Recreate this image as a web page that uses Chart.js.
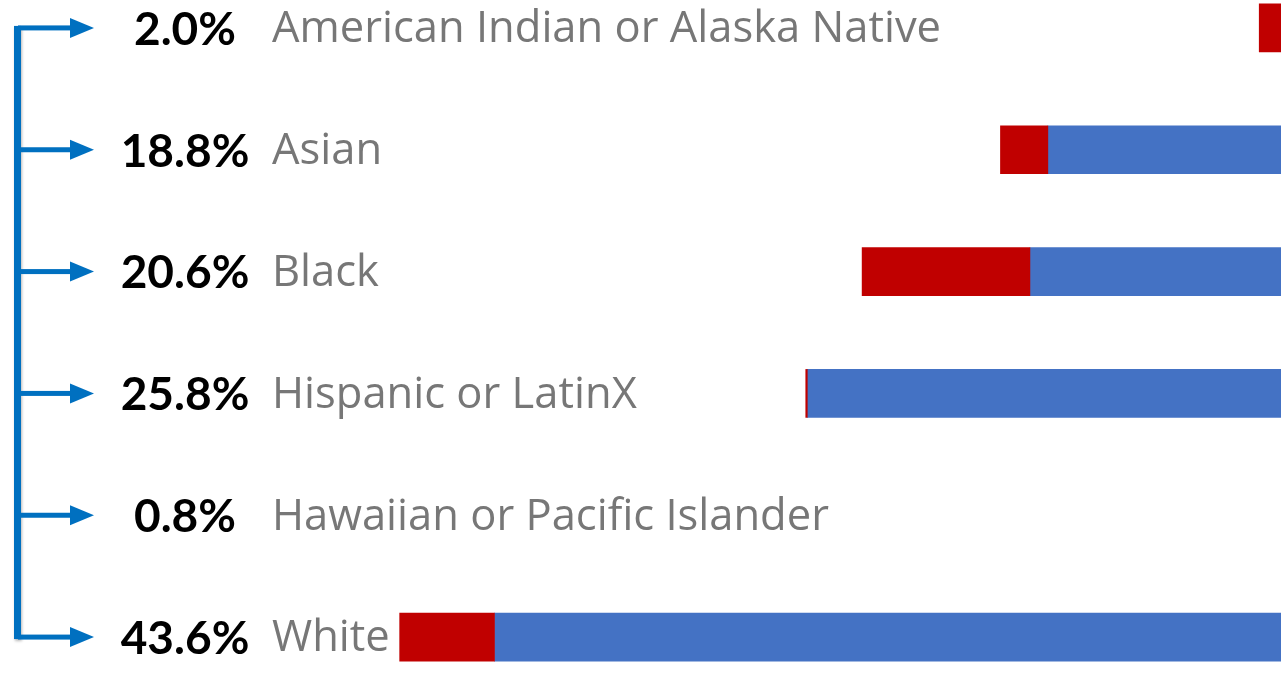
<!DOCTYPE html>
<html>
<head>
<meta charset="utf-8">
<script src="https://cdn.jsdelivr.net/npm/chart.js@4.4.1/dist/chart.umd.min.js"></script>
<style>
  html, body { margin: 0; padding: 0; background: #ffffff; overflow: hidden; width: 1281px; height: 686px; }
  #wrap { position: absolute; left: 0; top: -33px; width: 1281px; height: 731px; }
</style>
</head>
<body>
<div id="wrap"><canvas id="c"></canvas></div>
<script>
// Categories (top to bottom)
const categories = [
  "American Indian or Alaska Native",
  "Asian",
  "Black",
  "Hispanic or LatinX",
  "Hawaiian or Pacific Islander",
  "White"
];
// Share labels shown at left
const shares = ["2.0%", "18.8%", "20.6%", "25.8%", "0.8%", "43.6%"];
// Invisible lead-in segment (x units, visible window is 0..100)
const leadIn   = [98.3, 78.1, 67.3, 62.9, 101.0, 31.2];
// Red segment
const redVals  = [4.0, 3.7, 13.1, 0.12, 1.0, 7.4];
// Blue segment (continues past the visible window)
const blueVals = [20, 30, 40, 45, 10, 70];

const RED = "#C00000";
const BLUE = "#4472C4";
const ARROW = "#0070C0";

const overlay = {
  id: "overlay",
  afterDraw(chart) {
    const ctx = chart.ctx;
    const y = chart.scales.y;
    const ys = categories.map((_, i) => y.getPixelForValue(i));
    ctx.save();
    // bracket with arrows
    ctx.shadowColor = "rgba(0,0,0,0.28)";
    ctx.shadowBlur = 3;
    ctx.shadowOffsetX = 1;
    ctx.shadowOffsetY = 2;
    ctx.fillStyle = ARROW;
    ctx.fillRect(14, ys[0] - 2, 7, ys[ys.length - 1] - ys[0] + 4);
    ctx.shadowColor = "rgba(0,0,0,0)";
    ys.forEach(py => {
      ctx.fillRect(18, py - 2.5, 54, 5);
      ctx.beginPath();
      ctx.moveTo(70, py - 10);
      ctx.lineTo(94, py);
      ctx.lineTo(70, py + 10);
      ctx.closePath();
      ctx.fill();
    });
    // share labels
    ctx.fillStyle = "#000000";
    ctx.font = "bold 46px Lato";
    ctx.textAlign = "center";
    ctx.textBaseline = "middle";
    shares.forEach((s, i) => ctx.fillText(s, 185, ys[i] + 2));
    // category labels
    ctx.fillStyle = "#777777";
    ctx.font = "43.5px 'Open Sans'";
    ctx.textAlign = "left";
    categories.forEach((c, i) => ctx.fillText(c, 272, ys[i] + 2));
    ctx.restore();
  }
};

new Chart(document.getElementById("c"), {
  type: "bar",
  data: {
    labels: categories,
    datasets: [
      { label: "lead", data: leadIn, backgroundColor: "rgba(0,0,0,0)", borderWidth: 0 },
      { label: "red", data: redVals, backgroundColor: RED, borderWidth: 0 },
      { label: "blue", data: blueVals, backgroundColor: BLUE, borderWidth: 0 }
    ]
  },
  options: {
    indexAxis: "y",
    responsive: true,
    maintainAspectRatio: false,
    animation: false,
    layout: { padding: 0 },
    datasets: { bar: { barThickness: 48 } },
    plugins: { legend: { display: false }, tooltip: { enabled: false } },
    scales: {
      x: { stacked: true, min: 0, max: 100, display: false },
      y: { stacked: true, display: false }
    }
  },
  plugins: [overlay]
});
</script>
</body>
</html>
